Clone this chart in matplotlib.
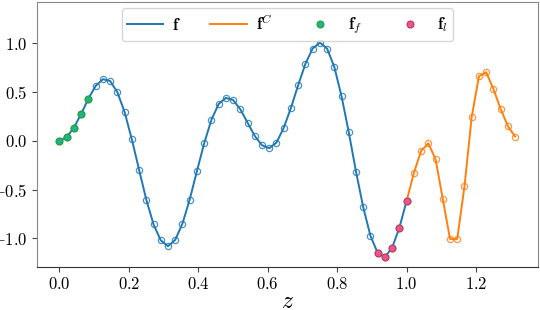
import matplotlib
matplotlib.use('Agg')
import matplotlib.pyplot as plt
import numpy as np

plt.rcParams['font.family'] = 'serif'
plt.rcParams['font.serif'] = ['cmr10', 'DejaVu Serif']
plt.rcParams['mathtext.fontset'] = 'cm'
plt.rcParams['axes.formatter.use_mathtext'] = True

# sample grid: step 1/48
z_f = np.arange(49) / 48.0
z_c = 1.0 + np.arange(16) / 48.0

# f on [0, 1]
f_vals = [0.0, 0.041, 0.137, 0.277, 0.434, 0.564, 0.633, 0.615, 0.50, 0.297,
          0.017, -0.294, -0.602, -0.855, -1.019, -1.080, -1.015, -0.848, -0.602, -0.311,
          -0.026, 0.215, 0.378, 0.441, 0.42, 0.325, 0.188, 0.051, -0.044, -0.075,
          -0.017, 0.133, 0.338, 0.571, 0.79, 0.947, 1.008, 0.947, 0.759, 0.458,
          0.089, -0.315, -0.68, -0.974, -1.149, -1.19, -1.094, -0.89, -0.615]

# continuation f^C on [1, 1.3125]
fc_vals = [-0.615, -0.328, -0.103, -0.024, -0.188, -0.595, -1.005, -1.005, -0.465,
           0.246, 0.663, 0.704, 0.533, 0.328, 0.151, 0.044]

# first / last five samples
first_idx = [0, 1, 2, 3, 4]
last_idx = [44, 45, 46, 47, 48]

blue = '#1f77b4'
orange = '#ff7f0e'

fig = plt.figure(figsize=(5.4, 3.1), dpi=100)
ax = fig.add_axes([0.068, 0.138, 0.928, 0.856])

ax.plot(z_f, f_vals, color=blue, lw=1.4, label=r'$\mathbf{f}$')
ax.plot(z_f, f_vals, 'o', ms=4.5, mfc='none', mec=blue, mew=0.9, alpha=0.8)
ax.plot(z_c, fc_vals, color=orange, lw=1.4, label=r'$\mathbf{f}^C$')
ax.plot(z_c[1:], fc_vals[1:], 'o', ms=4.5, mfc='none', mec=orange, mew=0.9, alpha=0.8)

ax.plot(z_f[first_idx], [f_vals[i] for i in first_idx], 'o', ls='none', ms=5,
        mfc='#1db38e', mec='#2ca02c', mew=0.8, label=r'$\mathbf{f}_f$')
ax.plot(z_f[last_idx], [f_vals[i] for i in last_idx], 'o', ls='none', ms=5,
        mfc='#e8558f', mec='#c0395a', mew=0.8, label=r'$\mathbf{f}_l$')

ax.set_xlim(-0.0656, 1.378)
ax.set_ylim(-1.295, 1.426)
ax.set_xticks([0.0, 0.2, 0.4, 0.6, 0.8, 1.0, 1.2])
ax.set_yticks([-1.0, -0.5, 0.0, 0.5, 1.0])
ax.xaxis.set_major_formatter(matplotlib.ticker.FormatStrFormatter(r'$%.1f$'))
ax.yaxis.set_major_formatter(matplotlib.ticker.FormatStrFormatter(r'$%.1f$'))
ax.tick_params(labelsize=12, length=3.5, width=0.8, color='#444444', pad=3)
ax.set_xlabel(r'$z$', fontsize=17, labelpad=-1)

for side in ['top', 'right', 'left']:
    ax.spines[side].set_color('#888888')
ax.spines['bottom'].set_color('#333333')

leg = ax.legend(loc='upper center', ncol=4, fontsize=12, handlelength=2.2,
                handletextpad=0.55, columnspacing=1.75, bbox_to_anchor=(0.5, 0.995),
                borderaxespad=0.3, borderpad=0.3, fancybox=True, framealpha=0.8)

fig.savefig('out.png', dpi=100)
